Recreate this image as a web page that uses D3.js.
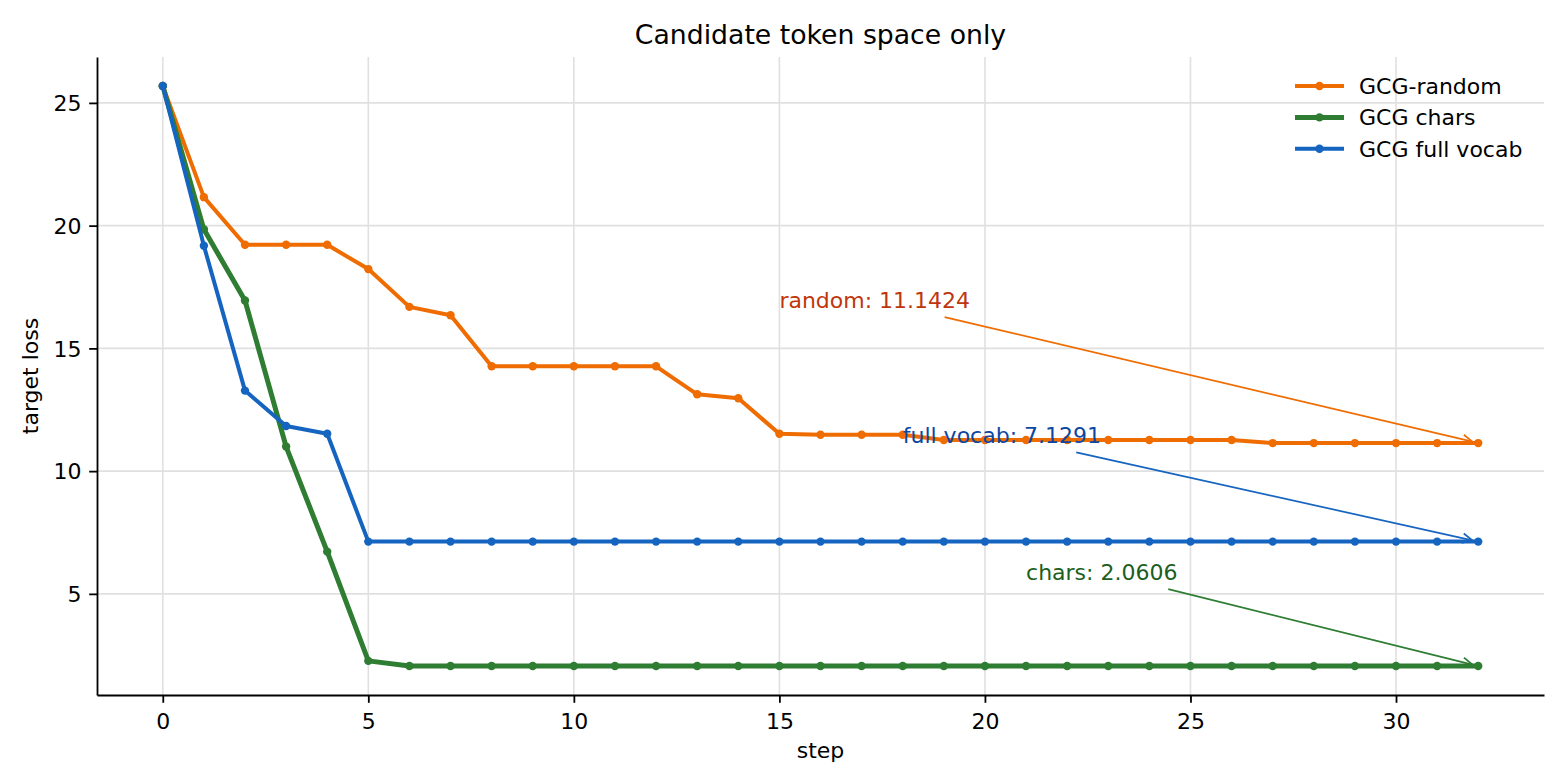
<!DOCTYPE html>
<html>
<head>
<meta charset="utf-8">
<script src="https://cdn.jsdelivr.net/npm/d3@7"></script>
<style>
    body { margin: 0; background: #fff; }
    svg { font-family: "DejaVu Sans", sans-serif; }
    .grid line { stroke: #e0e0e0; stroke-width: 1.6; }
    .axis path, .axis line { stroke: #000; stroke-width: 1.8; }
</style>
</head>
<body>
<div id="chart"></div>
<script>

var steps = d3.range(0, 33);

var randomLoss = [
    25.69, 21.16, 19.22, 19.22, 19.22, 18.23, 16.69, 16.35, 14.27, 14.27,
    14.27, 14.27, 14.27, 13.13, 12.97, 11.52, 11.48, 11.48, 11.48, 11.27,
    11.27, 11.27, 11.27, 11.27, 11.27, 11.27, 11.27, 11.1424, 11.1424, 11.1424,
    11.1424, 11.1424, 11.1424
];

var charsLoss = [
    25.69, 19.85, 16.95, 11.0, 6.72, 2.27, 2.0606, 2.0606, 2.0606, 2.0606,
    2.0606, 2.0606, 2.0606, 2.0606, 2.0606, 2.0606, 2.0606, 2.0606, 2.0606, 2.0606,
    2.0606, 2.0606, 2.0606, 2.0606, 2.0606, 2.0606, 2.0606, 2.0606, 2.0606, 2.0606,
    2.0606, 2.0606, 2.0606
];

var fullVocabLoss = [
    25.69, 19.18, 13.28, 11.84, 11.52, 7.1291, 7.1291, 7.1291, 7.1291, 7.1291,
    7.1291, 7.1291, 7.1291, 7.1291, 7.1291, 7.1291, 7.1291, 7.1291, 7.1291, 7.1291,
    7.1291, 7.1291, 7.1291, 7.1291, 7.1291, 7.1291, 7.1291, 7.1291, 7.1291, 7.1291,
    7.1291, 7.1291, 7.1291
];

var seriesNames = ["GCG-random", "GCG chars", "GCG full vocab"];

var xTickValues = [0, 5, 10, 15, 20, 25, 30];
var yTickValues = [5, 10, 15, 20, 25];

// final-value annotations: which series, label, arrow target, text anchor (data units)
var annotations = [
    {series: 0, label: "random: 11.1424", step: 32, loss: 11.1424, textStep: 15, textLoss: 16.6424},
    {series: 2, label: "full vocab: 7.1291", step: 32, loss: 7.1291, textStep: 18, textLoss: 11.1291},
    {series: 1, label: "chars: 2.0606", step: 32, loss: 2.0606, textStep: 21, textLoss: 5.5606}
];

var colors = ["#ef6c00", "#2e7d32", "#1565c0"]
    , textColors = ["#bf360c", "#1b5e20", "#0d47a1"]
    , widths = [4.0, 5.0, 4.0];

var series = [randomLoss, charsLoss, fullVocabLoss].map(function(vals, i) {
    return {name: seriesNames[i], color: colors[i], width: widths[i],
            data: vals.map(function(v, j) { return {step: steps[j], loss: v}; })};
});

var W = 1568, H = 784
    , margin = {top: 57, right: 24, bottom: 89, left: 97}
    , width = W - margin.left - margin.right
    , height = H - margin.top - margin.bottom
    , fontSize = 22;

var svg = d3.select("#chart").append("svg")
    .attr("width", W)
    .attr("height", H);

var g = svg.append("g").attr("transform", "translate(" + margin.left + "," + margin.top + ")");

var x = d3.scaleLinear().domain([-1.6, 33.6]).range([0, width]);
var y = d3.scaleLinear().domain([0.88, 26.87]).range([height, 0]);

// grid
g.append("g")
    .attr("class", "grid")
    .selectAll("line")
    .data(xTickValues)
    .enter().append("line")
    .attr("x1", d => x(d)).attr("x2", d => x(d))
    .attr("y1", 0).attr("y2", height);

g.append("g")
    .attr("class", "grid")
    .selectAll("line")
    .data(yTickValues)
    .enter().append("line")
    .attr("y1", d => y(d)).attr("y2", d => y(d))
    .attr("x1", 0).attr("x2", width);

// axes
var xAxis = d3.axisBottom(x)
    .tickValues(xTickValues)
    .tickSizeOuter(0)
    .tickSizeInner(7.8)
    .tickPadding(7.8)
    .tickFormat(d3.format("d"));

var yAxis = d3.axisLeft(y)
    .tickValues(yTickValues)
    .tickSizeOuter(0)
    .tickSizeInner(7.8)
    .tickPadding(7.8)
    .tickFormat(d3.format("d"));

g.append("g")
    .attr("class", "axis axis--x")
    .attr("transform", "translate(0," + height + ")")
    .call(xAxis)
    .call(s => s.selectAll("text")
        .attr("dy", "0.83em")
        .style("font-size", fontSize + "px")
        .style("font-family", "'DejaVu Sans', sans-serif")
        .attr("fill", "#000"));

g.append("g")
    .attr("class", "axis axis--y")
    .call(yAxis)
    .call(s => s.selectAll("text")
        .attr("dy", "0.35em")
        .style("font-size", fontSize + "px")
        .style("font-family", "'DejaVu Sans', sans-serif")
        .attr("fill", "#000"));

// lines
var line_gen = d3.line()
    .x(d => x(d.step))
    .y(d => y(d.loss));

var line_g = g.append("g").attr("class", "line-pane");

series.forEach(function(s) {
    var sg = line_g.append("g");
    sg.append("path")
        .attr("d", line_gen(s.data))
        .attr("fill", "none")
        .attr("stroke", s.color)
        .attr("stroke-width", s.width)
        .attr("stroke-linejoin", "round")
        .attr("stroke-linecap", "square");
    sg.selectAll("circle")
        .data(s.data)
        .enter().append("circle")
        .attr("cx", d => x(d.step))
        .attr("cy", d => y(d.loss))
        .attr("r", 4.2)
        .attr("fill", s.color);
});

// annotations
var ann_g = g.append("g").attr("class", "annotation-pane");

annotations.forEach(function(a) {
    var col = colors[a.series];
    var t = ann_g.append("text")
        .attr("x", x(a.textStep))
        .attr("y", y(a.textLoss))
        .attr("fill", textColors[a.series])
        .style("font-size", fontSize + "px")
        .text(a.label);

    var bb = t.node().getBBox()
        , cx = bb.x + bb.width / 2
        , cy = bb.y + bb.height / 2
        , tx = x(a.step)
        , ty = y(a.loss);

    // start just outside the text box
    var dx = tx - cx, dy = ty - cy;
    var k = Math.min((bb.width / 2 + 4) / Math.abs(dx), (bb.height / 2 + 4) / Math.abs(dy));
    var sx = cx + dx * k, sy = cy + dy * k;
    var len = Math.sqrt((tx - sx) * (tx - sx) + (ty - sy) * (ty - sy));
    var ux = (tx - sx) / len, uy = (ty - sy) / len;
    var ex = tx - ux * 6, ey = ty - uy * 6;

    ann_g.append("line")
        .attr("x1", sx).attr("y1", sy)
        .attr("x2", ex).attr("y2", ey)
        .attr("stroke", col)
        .attr("stroke-width", 1.7);

    var ang = Math.atan2(uy, ux), hl = 11, ha = 0.45;
    ann_g.append("path")
        .attr("d", "M" + (ex - hl * Math.cos(ang - ha)) + "," + (ey - hl * Math.sin(ang - ha)) +
                   "L" + ex + "," + ey +
                   "L" + (ex - hl * Math.cos(ang + ha)) + "," + (ey - hl * Math.sin(ang + ha)))
        .attr("fill", "none")
        .attr("stroke", col)
        .attr("stroke-width", 1.7);
});

// legend
var legend = g.append("g")
    .attr("transform", "translate(" + (1295 - margin.left) + "," + (86 - margin.top) + ")");

series.forEach(function(s, i) {
    var lg = legend.append("g").attr("transform", "translate(0," + (i * 31.4) + ")");
    lg.append("line")
        .attr("x1", 0).attr("x2", 49)
        .attr("stroke", s.color)
        .attr("stroke-width", s.width);
    lg.append("circle").attr("cx", 24.5).attr("r", 4.2).attr("fill", s.color);
    lg.append("text")
        .attr("x", 64)
        .attr("dy", "0.36em")
        .style("font-size", fontSize + "px")
        .text(s.name);
});

// titles
svg.append("text")
    .attr("x", margin.left + width / 2)
    .attr("y", 44)
    .attr("text-anchor", "middle")
    .style("font-size", "26.7px")
    .text("Candidate token space only");

svg.append("text")
    .attr("x", margin.left + width / 2)
    .attr("y", 758)
    .attr("text-anchor", "middle")
    .style("font-size", fontSize + "px")
    .text("step");

svg.append("text")
    .attr("transform", "translate(38," + (margin.top + height / 2) + ") rotate(-90)")
    .attr("text-anchor", "middle")
    .style("font-size", fontSize + "px")
    .text("target loss");

</script>
</body>
</html>
